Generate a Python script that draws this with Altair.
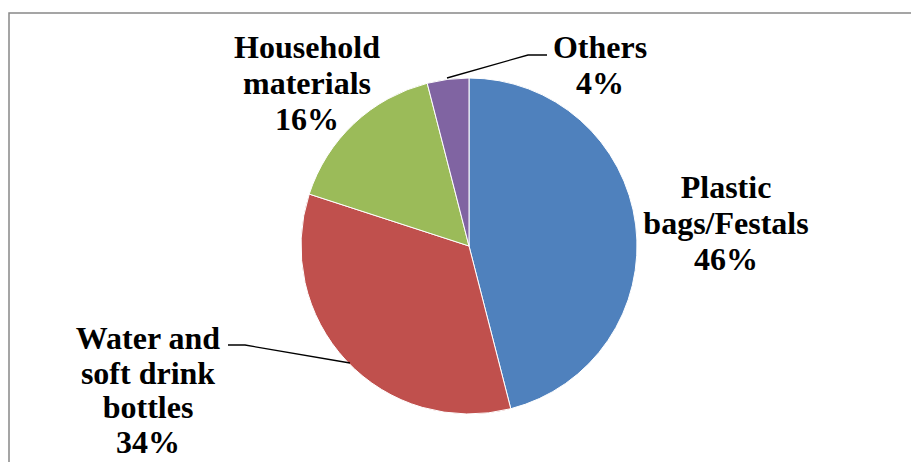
import altair as alt
import pandas as pd

# ---- data ----
categories = ["Plastic bags/Festals", "Water and soft drink bottles", "Household materials", "Others"]
values = [46, 34, 16, 4]
label_lines = [
    ["Plastic", "bags/Festals", "46%"],
    ["Water and", "soft drink", "bottles", "34%"],
    ["Household", "materials", "16%"],
    ["Others", "4%"],
]
colors = ["#4F81BD", "#C0504D", "#9BBB59", "#8064A2"]

# ---- layout (chart pixel coordinates) ----
W, H = 903, 454
CX, CY, R = 461, 238, 168
label_x = [718, 140, 299, 592]
label_y = [180, 331, 40, 40]
label_lh = [36, 34.5, 36, 36]
leaders = {
    "Others": [(539, 47), (520, 47), (439, 70)],
    "Water and soft drink bottles": [(220, 337), (237, 337), (342, 355)],
}

pie_df = pd.DataFrame({"category": categories, "value": values, "order": list(range(len(categories)))})
lab_df = pd.DataFrame({
    "category": categories,
    "text": ["\n".join(l) for l in label_lines],
    "lx": label_x,
    "ly": label_y,
})
lead_rows = []
for k, pts in leaders.items():
    for i, (x, y) in enumerate(pts):
        lead_rows.append({"grp": k, "i": i, "px": x, "py": y})
lead_df = pd.DataFrame(lead_rows)

frame = alt.Chart(pd.DataFrame({"a": [0]})).mark_rect(
    fill=None, stroke="#888888", strokeWidth=1.5
).encode(x=alt.value(1), x2=alt.value(W + 40), y=alt.value(5), y2=alt.value(H + 40))

pie = alt.Chart(pie_df).mark_arc(radius=R, stroke="white", strokeWidth=1).encode(
    theta=alt.Theta("value:Q", stack=True),
    order=alt.Order("order:Q"),
    color=alt.Color("category:N", scale=alt.Scale(domain=categories, range=colors), legend=None),
    x=alt.value(CX),
    y=alt.value(CY),
)

lines = alt.Chart(lead_df).mark_line(color="black", strokeWidth=1.3).encode(
    x=alt.X("px:Q", scale=None),
    y=alt.Y("py:Q", scale=None),
    detail="grp:N",
    order="i:Q",
)

label_layers = []
for i, cat in enumerate(categories):
    label_layers.append(
        alt.Chart(lab_df.iloc[[i]]).mark_text(
            font="Liberation Serif", fontWeight=700, fontSize=32, lineBreak="\n",
            lineHeight=label_lh[i], align="center", baseline="middle", color="black"
        ).encode(
            x=alt.X("lx:Q", scale=None),
            y=alt.Y("ly:Q", scale=None),
            text="text:N",
        )
    )

chart = alt.layer(frame, pie, lines, *label_layers).properties(
    width=W, height=H, padding=0, autosize=alt.AutoSizeParams(type="none")
).configure_view(stroke=None).configure_axis(disable=True).configure_text(font="Liberation Serif")

chart.save("out.html", embed_options={"renderer": "svg", "actions": False})
